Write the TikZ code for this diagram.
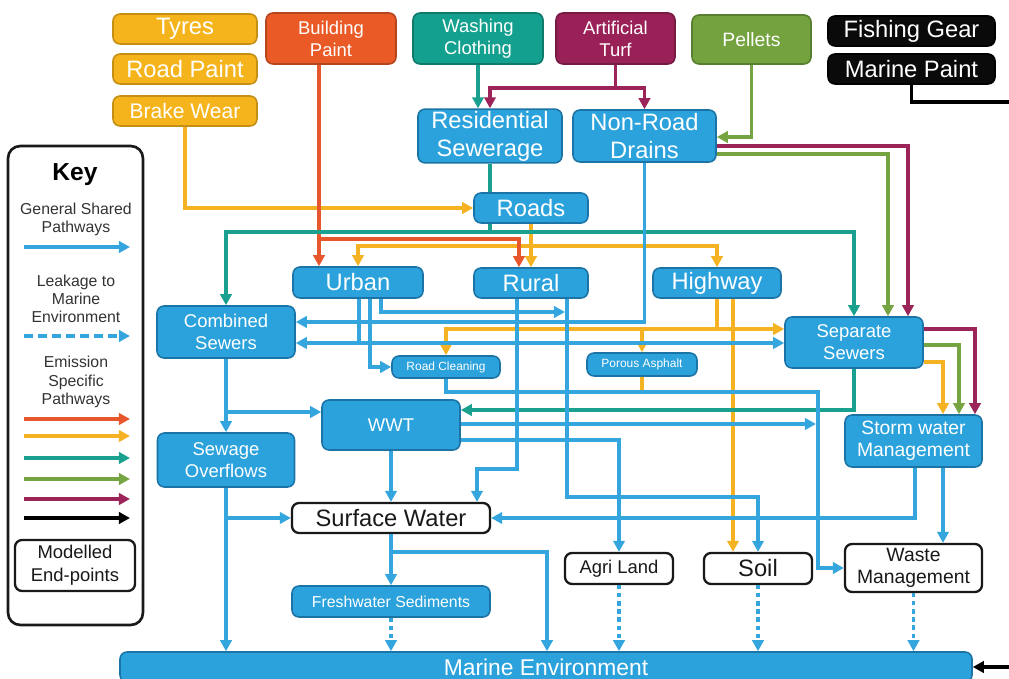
\documentclass[tikz,border=0pt]{standalone}
\usepackage{fontspec}
\setmainfont{Liberation Sans}
\usetikzlibrary{arrows.meta}

\definecolor{bfill}{HTML}{2BA2DC}
\definecolor{bdark}{HTML}{1C74A6}
\definecolor{bline}{HTML}{35A5DD}
\definecolor{yfill}{HTML}{F6B41C}
\definecolor{ydark}{HTML}{C48F14}
\definecolor{yline}{HTML}{F5B223}
\definecolor{ofill}{HTML}{EA5A26}
\definecolor{odark}{HTML}{B5451D}
\definecolor{oline}{HTML}{E8562B}
\definecolor{tfill}{HTML}{14A08E}
\definecolor{tdark}{HTML}{0E7A6C}
\definecolor{tline}{HTML}{1AA08F}
\definecolor{mfill}{HTML}{9A2157}
\definecolor{mdark}{HTML}{751A42}
\definecolor{mline}{HTML}{9B2458}
\definecolor{gfill}{HTML}{74A23E}
\definecolor{gdark}{HTML}{587E2F}
\definecolor{gline}{HTML}{77A442}
\definecolor{kfill}{HTML}{0A0A0A}

\begin{document}
\begin{tikzpicture}[x=0.02cm,y=-0.02cm,>={Triangle[length=6.3pt,width=6.5pt]}]

% one pixel of the sketch
\def\px{0.02cm}
\tikzset{wh/.style 2 args={minimum width=#1*\px, minimum height=#2*\px}}
% node style definition
\tikzstyle{block} = [
	draw=bdark, fill=bfill, rounded corners=4pt, line width=0.9pt,
	text=white, align=center, inner sep=1pt ];
\tikzstyle{yelbox} = [block, draw=ydark, fill=yfill];
\tikzstyle{orabox} = [block, draw=odark, fill=ofill];
\tikzstyle{tealbox} = [block, draw=tdark, fill=tfill];
\tikzstyle{plumbox} = [block, draw=mdark, fill=mfill];
\tikzstyle{grnbox} = [block, draw=gdark, fill=gfill];
\tikzstyle{blkbox} = [block, draw=black, fill=kfill];
\tikzstyle{endpt} = [block, draw=black!90, fill=white, text=black!90, line width=1.3pt];
\tikzstyle{fbig} = [font=\fontsize{13.5}{16}\selectfont];
\tikzstyle{fmid} = [font=\fontsize{10.5}{12.5}\selectfont];
\tikzstyle{fsmall} = [font=\fontsize{6.8}{8}\selectfont];
\tikzstyle{wire} = [line width=1.8pt];
\tikzstyle{blueline} = [wire, draw=bline];
\tikzstyle{yellowline} = [wire, draw=yline];
\tikzstyle{orangeline} = [wire, draw=oline];
\tikzstyle{tealline} = [wire, draw=tline];
\tikzstyle{plumline} = [wire, draw=mline];
\tikzstyle{greenline} = [wire, draw=gline];
\tikzstyle{blackline} = [wire, draw=black];
\tikzstyle{leak} = [blueline, dash pattern=on 2.4pt off 2.2pt];

\useasboundingbox (0,0) rectangle (1009,679);
\clip (0,0) rectangle (1009,679);

% sources
\node[yelbox,fbig,wh={144}{30}] (tyres) at (185,29) {Tyres};
\node[yelbox,fbig,wh={144}{30}] (rpaint) at (185,69) {Road Paint};
\node[yelbox,wh={144}{30},font=\fontsize{12}{14}\selectfont] (bwear) at (185,111) {Brake Wear};
\node[orabox,fmid,wh={130}{51}] (bpaint) at (331,38.5) {Building\\Paint};
\node[tealbox,fmid,wh={130}{51}] (wash) at (478,38.5) {Washing\\Clothing};
\node[plumbox,fmid,wh={119}{51}] (turf) at (615.5,38.5) {Artificial\\Turf};
\node[grnbox,wh={119}{49},font=\fontsize{11}{13}\selectfont] (pellets) at (751.5,39.5) {Pellets};
\node[blkbox,fbig,wh={167}{30}] (fgear) at (911.5,31) {Fishing Gear};
\node[blkbox,fbig,wh={167}{30}] (mpaint) at (911.5,69) {Marine Paint};

% pathways
\node[block,fbig,wh={144}{52}] (res) at (490,136) {Residential\\Sewerage};
\node[block,fbig,wh={143}{52}] (nrd) at (644.5,136) {Non-Road\\Drains};
\node[block,fbig,wh={114}{30}] (roads) at (531,208) {Roads};
\node[block,fbig,wh={130}{31}] (urban) at (358,282.5) {Urban};
\node[block,fbig,wh={114}{30}] (rural) at (531,283) {Rural};
\node[block,fbig,wh={128}{30}] (hwy) at (717,283) {Highway};
\node[block,fmid,wh={138}{52}] (comb) at (226,332) {Combined\\Sewers};
\node[block,fmid,wh={138}{51}] (sep) at (854,342.5) {Separate\\Sewers};
\node[block,fsmall,wh={108}{22}] (rclean) at (446,367) {Road Cleaning};
\node[block,fsmall,wh={110}{23}] (pasph) at (642,364.5) {Porous Asphalt};
\node[block,fmid,wh={138}{50}] (wwt) at (391,425) {WWT};
\node[block,fmid,wh={137}{54}] (sovf) at (226,460) {Sewage\\Overflows};
\node[block,wh={137}{52},font=\fontsize{11}{12.5}\selectfont] (storm) at (913.5,441) {Storm water\\Management};
\node[block,wh={198}{31},font=\fontsize{9}{11}\selectfont] (fsed) at (391,601.5) {Freshwater Sediments};
\node[block,wh={852}{30},font=\fontsize{13}{15}\selectfont] (marine) at (546,667) {Marine Environment};

% end-points
\node[endpt,fbig,wh={198}{30}] (surf) at (391,518) {Surface Water};
\node[endpt,fmid,wh={108}{31}] (agri) at (619,568.5) {Agri Land};
\node[endpt,fbig,wh={108}{31}] (soil) at (758,568.5) {Soil};
\node[endpt,wh={137}{48},font=\fontsize{11}{12.5}\selectfont] (waste) at (913.5,568) {Waste\\Management};

% key
\node[draw=black!90, line width=1.5pt, rounded corners=7pt, wh={135}{479}] (key) at (75.5,385.5) {};
\node[font=\fontsize{14}{16}\selectfont\bfseries] (keyt) at (75,175) {Key};
\node[text=black!80, align=center, font=\fontsize{9}{10.3}\selectfont] (kgen) at (76,219) {General Shared\\Pathways};
\node[text=black!80, align=center, font=\fontsize{9}{10.3}\selectfont] (kleak) at (76,299) {Leakage to\\Marine\\Environment};
\node[text=black!80, align=center, font=\fontsize{9}{10.3}\selectfont] (kemis) at (76,382) {Emission\\Specific\\Pathways};
\node[endpt,wh={120}{51},font=\fontsize{10.5}{13}\selectfont] (mend) at (75,565.5) {Modelled\\End-points};
\coordinate (kg0) at (24,247);  \coordinate (kg1) at (130,247);
\coordinate (kl0) at (24,336);  \coordinate (kl1) at (130,336);
\coordinate (ko0) at (24,419);  \coordinate (ko1) at (130,419);
\coordinate (ky0) at (24,436);  \coordinate (ky1) at (130,436);
\coordinate (kt0) at (24,458);  \coordinate (kt1) at (130,458);
\coordinate (kn0) at (24,479);  \coordinate (kn1) at (130,479);
\coordinate (km0) at (24,499);  \coordinate (km1) at (130,499);
\coordinate (kk0) at (24,518);  \coordinate (kk1) at (130,518);
\draw[->,blueline] (kg0) -- (kg1);
\draw[->,blueline,dash pattern=on 5pt off 3pt] (kl0) -- (kl1);
\draw[->,orangeline] (ko0) -- (ko1);
\draw[->,yellowline] (ky0) -- (ky1);
\draw[->,tealline] (kt0) -- (kt1);
\draw[->,greenline] (kn0) -- (kn1);
\draw[->,plumline] (km0) -- (km1);
\draw[->,blackline] (kk0) -- (kk1);

% yellow
\draw[->,yellowline] (bwear.south) |- (roads.west);
\draw[->,yellowline] (roads.south) -- (rural.north);
\draw[->,yellowline] (roads.south |- 0,246) -| (urban.north);
\draw[->,yellowline] (roads.south |- 0,246) -| (hwy.north);
\draw[->,yellowline] (hwy.south) |- (sep.west |- 0,329);
\draw[->,yellowline] (hwy.south |- 0,329) -| (rclean.north);
\draw[->,yellowline] (pasph.north |- 0,329) -- (pasph.north);
\draw[yellowline] (pasph.south) -- (pasph.south |- 0,392);
\draw[->,yellowline] (733,0 |- hwy.south) -- (733,0 |- soil.north);
\draw[->,yellowline] (sep.east |- 0,362) -| (943,0 |- storm.north);

% orange
\draw[->,orangeline] (319,0 |- bpaint.south) -- (319,0 |- urban.north);
\draw[->,orangeline] (319,239) -| (519,0 |- rural.north);

% teal
\draw[->,tealline] (wash.south) -- (wash.south |- res.north);
\draw[tealline] (res.south) -- (res.south |- roads.north);
\draw[tealline] (490,0 |- roads.south) -- (490,232);
\draw[->,tealline] (490,232) -| (comb.north);
\draw[->,tealline] (490,232) -| (sep.north);
\draw[->,tealline] (sep.south) |- (wwt.east |- 0,410);

% plum
\draw[plumline] (turf.south) -- (turf.south |- 0,88);
\draw[->,plumline] (turf.south |- 0,88) -| (res.north);
\draw[->,plumline] (turf.south |- 0,88) -| (nrd.north);
\draw[->,plumline] (nrd.east |- 0,146) -| (908,0 |- sep.north);
\draw[->,plumline] (sep.east |- 0,329) -| (975,0 |- storm.north);

% green
\draw[->,greenline] (pellets.south) |- (nrd.east |- 0,137);
\draw[->,greenline] (nrd.east |- 0,154) -| (888,0 |- sep.north);
\draw[->,greenline] (sep.east |- 0,345) -| (959,0 |- storm.north);

% black
\coordinate (edgea) at (1015,102);
\coordinate (edgeb) at (1015,667);
\draw[blackline] (mpaint.south) |- (edgea);
\draw[->,blackline] (edgeb) -- (marine.east |- edgeb);

% blue
\draw[->,blueline] (nrd.south) |- (comb.east |- 0,322);
\draw[blueline] (359,0 |- urban.south) -- (359,343);
\draw[->,blueline] (359,343) -- (comb.east |- 0,343);
\draw[->,blueline] (359,343) -- (sep.west |- 0,343);
\draw[->,blueline] (370,0 |- urban.south) |- (rclean.west);
\draw[->,blueline] (381,0 |- urban.south) |- (565,312);
\draw[->,blueline] (517,0 |- rural.south) -- (517,469) -| (477,0 |- surf.north);
\draw[->,blueline] (567,0 |- rural.south) -- (567,497) -| (soil.north);
\draw[->,blueline] (rclean.south) |- (818,392) |- (waste.west);
\draw[->,blueline] (comb.south) -- (sovf.north);
\draw[->,blueline] (comb.south |- 0,412) -- (wwt.west |- 0,412);
\draw[->,blueline] (sovf.south) -- (sovf.south |- marine.north);
\draw[->,blueline] (sovf.south |- surf.west) -- (surf.west);
\draw[->,blueline] (wwt.south) -- (surf.north);
\draw[->,blueline] (wwt.east |- 0,424) -- (816,424);
\draw[->,blueline] (wwt.east |- 0,440) -| (agri.north);
\draw[->,blueline] (915,0 |- storm.south) |- (surf.east);
\draw[->,blueline] (943,0 |- storm.south) -- (943,0 |- waste.north);
\draw[->,blueline] (surf.south) -- (fsed.north);
\draw[->,blueline] (surf.south |- 0,552) -| (547,0 |- marine.north);

% leakage
\draw[->,leak] (fsed.south) -- (fsed.south |- marine.north);
\draw[->,leak] (agri.south) -- (agri.south |- marine.north);
\draw[->,leak] (soil.south) -- (soil.south |- marine.north);
\draw[->,leak] (waste.south) -- (waste.south |- marine.north);

\end{tikzpicture}
\end{document}
